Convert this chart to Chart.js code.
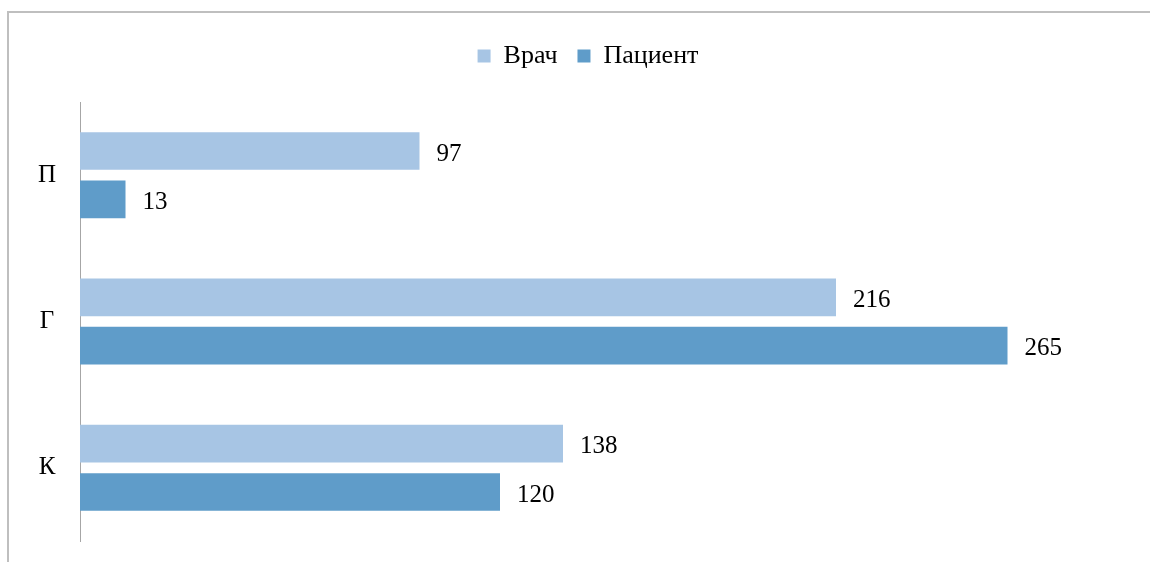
<!DOCTYPE html>
<html>
<head>
<meta charset="utf-8">
<script src="https://cdn.jsdelivr.net/npm/chart.js@4"></script>
<style>
  html, body { margin: 0; padding: 0; background: #fff; }
  #frame {
    position: absolute; left: 7px; top: 11px; width: 1143px; height: 551px;
    border-top: 2px solid #bfbfbf; border-left: 2px solid #bfbfbf;
  }
  #wrap { position: absolute; left: 0; top: 0; width: 1150px; height: 562px; }
</style>
</head>
<body>
<div id="frame"></div>
<div id="wrap"><canvas id="myChart" width="1150" height="562"></canvas></div>
<script>
const categories = ['П', 'Г', 'К'];
const doctorValues = [97, 216, 138];
const patientValues = [13, 265, 120];
const seriesNames = ['Врач', 'Пациент'];

const serif = "'Liberation Serif', 'DejaVu Serif', serif";

// подписи значений справа от столбцов
const valueLabels = {
  id: 'valueLabels',
  afterDatasetsDraw(chart) {
    const ctx = chart.ctx;
    ctx.save();
    ctx.font = `25px ${serif}`;
    ctx.fillStyle = '#000';
    ctx.textAlign = 'left';
    ctx.textBaseline = 'middle';
    chart.data.datasets.forEach((ds, i) => {
      chart.getDatasetMeta(i).data.forEach((bar, j) => {
        ctx.fillText(ds.data[j], bar.x + 17, bar.y + 3);
      });
    });
    ctx.restore();
  },
};

// лишнее место под легендой и сдвиг легенды вправо
const legendSpace = {
  id: 'legendSpace',
  beforeInit(chart) {
    const fit = chart.legend.fit;
    chart.legend.fit = function () {
      fit.call(this);
      this.height += 23;
    };
  },
  afterLayout(chart) {
    chart.legend.left += 23;
    chart.legend.right += 23;
  },
};

const ctx = document.getElementById('myChart');

new Chart(ctx, {
  type: 'bar',
  data: {
    labels: categories,
    datasets: [
      {
        label: seriesNames[0],
        data: doctorValues,
        backgroundColor: '#a7c5e4',
      },
      {
        label: seriesNames[1],
        data: patientValues,
        backgroundColor: '#5f9cc9',
      },
    ],
  },
  options: {
    indexAxis: 'y',
    responsive: false,
    animation: false,
    categoryPercentage: 0.66,
    barPercentage: 0.78,
    layout: {
      padding: { left: 0, top: 23, right: 20, bottom: 21 },
    },
    plugins: {
      tooltip: { enabled: false },
      legend: {
        position: 'top',
        labels: {
          color: '#000',
          font: { family: serif, size: 26 },
          boxWidth: 13,
          boxHeight: 13,
          padding: 20,
        },
      },
    },
    scales: {
      x: {
        display: false,
        min: 0,
        max: 300,
      },
      y: {
        afterFit(scale) {
          scale.width = 80;
          scale.paddingTop = 0;
          scale.paddingBottom = 0;
        },
        grid: { display: false, drawTicks: false },
        border: { display: true, color: '#a6a6a6', width: 1 },
        ticks: {
          color: '#000',
          font: { family: serif, size: 25 },
          crossAlign: 'center',
          padding: 24,
        },
      },
    },
  },
  plugins: [valueLabels, legendSpace],
});
</script>
</body>
</html>
